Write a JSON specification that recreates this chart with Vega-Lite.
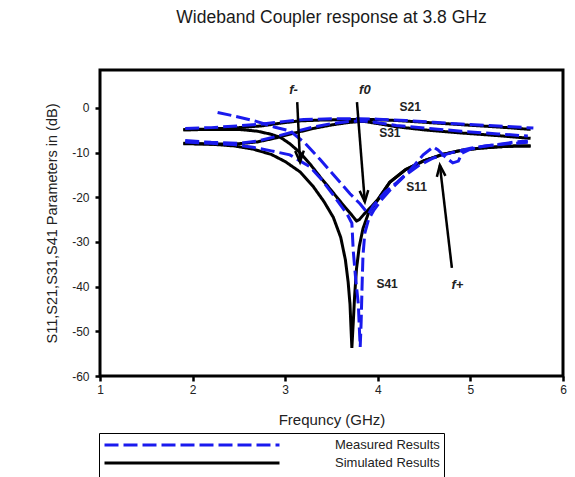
{
  "$schema": "https://vega.github.io/schema/vega-lite/v6.json",
  "width": 463,
  "height": 306,
  "autosize": {"type": "none"},
  "padding": {"left": 100, "top": 70, "right": 12, "bottom": 101},
  "background": "white",
  "title": {"text": "Wideband Coupler response at 3.8 GHz", "fontSize": 17.5, "fontWeight": "normal", "font": "Liberation Sans", "color": "#1a1a1a", "offset": 44, "anchor": "middle"},
  "config": {
    "view": {"stroke": "black", "strokeWidth": 3, "fill": "white"},
    "axis": {"domain": false, "grid": false, "tickColor": "black", "tickWidth": 2.5, "tickSize": 5, "labelFont": "Liberation Sans", "labelFontSize": 12, "labelColor": "#222", "titleFont": "Liberation Sans", "titleFontWeight": "normal", "titleColor": "#222", "labelExpr": "toString(datum.value)"}
  },
  "datasets": {
    "curves": [
      {"p": "S21", "t": "Simulated Results", "f": 1.9, "dB": -4.9},
      {"p": "S21", "t": "Simulated Results", "f": 2.2, "dB": -4.7},
      {"p": "S21", "t": "Simulated Results", "f": 2.5, "dB": -4.4},
      {"p": "S21", "t": "Simulated Results", "f": 2.75, "dB": -4.0},
      {"p": "S21", "t": "Simulated Results", "f": 2.95, "dB": -3.4},
      {"p": "S21", "t": "Simulated Results", "f": 3.15, "dB": -2.9},
      {"p": "S21", "t": "Simulated Results", "f": 3.4, "dB": -2.7},
      {"p": "S21", "t": "Simulated Results", "f": 3.7, "dB": -2.6},
      {"p": "S21", "t": "Simulated Results", "f": 3.95, "dB": -2.6},
      {"p": "S21", "t": "Simulated Results", "f": 4.2, "dB": -2.8},
      {"p": "S21", "t": "Simulated Results", "f": 4.5, "dB": -3.2},
      {"p": "S21", "t": "Simulated Results", "f": 4.8, "dB": -3.6},
      {"p": "S21", "t": "Simulated Results", "f": 5.1, "dB": -4.0},
      {"p": "S21", "t": "Simulated Results", "f": 5.4, "dB": -4.4},
      {"p": "S21", "t": "Simulated Results", "f": 5.65, "dB": -4.8},

      {"p": "S31", "t": "Simulated Results", "f": 1.9, "dB": -8.0},
      {"p": "S31", "t": "Simulated Results", "f": 2.2, "dB": -8.1},
      {"p": "S31", "t": "Simulated Results", "f": 2.5, "dB": -8.0},
      {"p": "S31", "t": "Simulated Results", "f": 2.7, "dB": -7.6},
      {"p": "S31", "t": "Simulated Results", "f": 2.9, "dB": -6.7},
      {"p": "S31", "t": "Simulated Results", "f": 3.1, "dB": -5.6},
      {"p": "S31", "t": "Simulated Results", "f": 3.3, "dB": -4.6},
      {"p": "S31", "t": "Simulated Results", "f": 3.5, "dB": -3.8},
      {"p": "S31", "t": "Simulated Results", "f": 3.7, "dB": -3.2},
      {"p": "S31", "t": "Simulated Results", "f": 3.85, "dB": -3.0},
      {"p": "S31", "t": "Simulated Results", "f": 4.0, "dB": -3.5},
      {"p": "S31", "t": "Simulated Results", "f": 4.2, "dB": -4.2},
      {"p": "S31", "t": "Simulated Results", "f": 4.5, "dB": -4.9},
      {"p": "S31", "t": "Simulated Results", "f": 4.9, "dB": -5.6},
      {"p": "S31", "t": "Simulated Results", "f": 5.3, "dB": -6.2},
      {"p": "S31", "t": "Simulated Results", "f": 5.65, "dB": -6.8},

      {"p": "S11", "t": "Simulated Results", "f": 1.9, "dB": -4.9},
      {"p": "S11", "t": "Simulated Results", "f": 2.2, "dB": -4.8},
      {"p": "S11", "t": "Simulated Results", "f": 2.5, "dB": -4.8},
      {"p": "S11", "t": "Simulated Results", "f": 2.7, "dB": -5.2},
      {"p": "S11", "t": "Simulated Results", "f": 2.85, "dB": -5.9},
      {"p": "S11", "t": "Simulated Results", "f": 2.95, "dB": -6.6},
      {"p": "S11", "t": "Simulated Results", "f": 3.05, "dB": -8.0},
      {"p": "S11", "t": "Simulated Results", "f": 3.16, "dB": -10.0},
      {"p": "S11", "t": "Simulated Results", "f": 3.27, "dB": -12.6},
      {"p": "S11", "t": "Simulated Results", "f": 3.38, "dB": -15.5},
      {"p": "S11", "t": "Simulated Results", "f": 3.48, "dB": -18.0},
      {"p": "S11", "t": "Simulated Results", "f": 3.57, "dB": -20.3},
      {"p": "S11", "t": "Simulated Results", "f": 3.65, "dB": -22.3},
      {"p": "S11", "t": "Simulated Results", "f": 3.72, "dB": -24.0},
      {"p": "S11", "t": "Simulated Results", "f": 3.77, "dB": -25.3},
      {"p": "S11", "t": "Simulated Results", "f": 3.8, "dB": -25.0},
      {"p": "S11", "t": "Simulated Results", "f": 3.85, "dB": -23.8},
      {"p": "S11", "t": "Simulated Results", "f": 3.92, "dB": -22.3},
      {"p": "S11", "t": "Simulated Results", "f": 4.0, "dB": -20.5},
      {"p": "S11", "t": "Simulated Results", "f": 4.13, "dB": -16.6},
      {"p": "S11", "t": "Simulated Results", "f": 4.3, "dB": -13.8},
      {"p": "S11", "t": "Simulated Results", "f": 4.5, "dB": -11.8},
      {"p": "S11", "t": "Simulated Results", "f": 4.7, "dB": -10.4},
      {"p": "S11", "t": "Simulated Results", "f": 4.9, "dB": -9.5},
      {"p": "S11", "t": "Simulated Results", "f": 5.1, "dB": -9.0},
      {"p": "S11", "t": "Simulated Results", "f": 5.3, "dB": -8.7},
      {"p": "S11", "t": "Simulated Results", "f": 5.5, "dB": -8.5},
      {"p": "S11", "t": "Simulated Results", "f": 5.65, "dB": -8.5},

      {"p": "S41", "t": "Simulated Results", "f": 1.9, "dB": -7.9},
      {"p": "S41", "t": "Simulated Results", "f": 2.2, "dB": -8.1},
      {"p": "S41", "t": "Simulated Results", "f": 2.45, "dB": -8.5},
      {"p": "S41", "t": "Simulated Results", "f": 2.65, "dB": -9.2},
      {"p": "S41", "t": "Simulated Results", "f": 2.85, "dB": -10.4},
      {"p": "S41", "t": "Simulated Results", "f": 3.0, "dB": -12.0},
      {"p": "S41", "t": "Simulated Results", "f": 3.16, "dB": -14.3},
      {"p": "S41", "t": "Simulated Results", "f": 3.3, "dB": -17.5},
      {"p": "S41", "t": "Simulated Results", "f": 3.42, "dB": -21.0},
      {"p": "S41", "t": "Simulated Results", "f": 3.52, "dB": -24.5},
      {"p": "S41", "t": "Simulated Results", "f": 3.6, "dB": -29.0},
      {"p": "S41", "t": "Simulated Results", "f": 3.65, "dB": -34.0},
      {"p": "S41", "t": "Simulated Results", "f": 3.68, "dB": -39.0},
      {"p": "S41", "t": "Simulated Results", "f": 3.7, "dB": -44.0},
      {"p": "S41", "t": "Simulated Results", "f": 3.71, "dB": -49.0},
      {"p": "S41", "t": "Simulated Results", "f": 3.72, "dB": -53.7},
      {"p": "S41", "t": "Simulated Results", "f": 3.735, "dB": -48.0},
      {"p": "S41", "t": "Simulated Results", "f": 3.75, "dB": -42.0},
      {"p": "S41", "t": "Simulated Results", "f": 3.77, "dB": -36.0},
      {"p": "S41", "t": "Simulated Results", "f": 3.8, "dB": -31.0},
      {"p": "S41", "t": "Simulated Results", "f": 3.84, "dB": -27.0},
      {"p": "S41", "t": "Simulated Results", "f": 3.9, "dB": -23.5},
      {"p": "S41", "t": "Simulated Results", "f": 4.0, "dB": -20.6},
      {"p": "S41", "t": "Simulated Results", "f": 4.13, "dB": -16.6},
      {"p": "S41", "t": "Simulated Results", "f": 4.3, "dB": -13.8},
      {"p": "S41", "t": "Simulated Results", "f": 4.5, "dB": -11.8},
      {"p": "S41", "t": "Simulated Results", "f": 4.7, "dB": -10.4},
      {"p": "S41", "t": "Simulated Results", "f": 4.9, "dB": -9.5},
      {"p": "S41", "t": "Simulated Results", "f": 5.1, "dB": -9.0},
      {"p": "S41", "t": "Simulated Results", "f": 5.3, "dB": -8.7},
      {"p": "S41", "t": "Simulated Results", "f": 5.5, "dB": -8.5},
      {"p": "S41", "t": "Simulated Results", "f": 5.65, "dB": -8.5},

      {"p": "S21", "t": "Measured Results", "f": 1.92, "dB": -4.6},
      {"p": "S21", "t": "Measured Results", "f": 2.2, "dB": -4.4},
      {"p": "S21", "t": "Measured Results", "f": 2.5, "dB": -4.0},
      {"p": "S21", "t": "Measured Results", "f": 2.75, "dB": -3.6},
      {"p": "S21", "t": "Measured Results", "f": 3.0, "dB": -3.0},
      {"p": "S21", "t": "Measured Results", "f": 3.2, "dB": -2.6},
      {"p": "S21", "t": "Measured Results", "f": 3.5, "dB": -2.4},
      {"p": "S21", "t": "Measured Results", "f": 3.8, "dB": -2.4},
      {"p": "S21", "t": "Measured Results", "f": 4.0, "dB": -2.5},
      {"p": "S21", "t": "Measured Results", "f": 4.3, "dB": -2.8},
      {"p": "S21", "t": "Measured Results", "f": 4.6, "dB": -3.2},
      {"p": "S21", "t": "Measured Results", "f": 4.9, "dB": -3.6},
      {"p": "S21", "t": "Measured Results", "f": 5.2, "dB": -3.9},
      {"p": "S21", "t": "Measured Results", "f": 5.45, "dB": -4.2},
      {"p": "S21", "t": "Measured Results", "f": 5.68, "dB": -4.5},

      {"p": "S31", "t": "Measured Results", "f": 1.92, "dB": -7.3},
      {"p": "S31", "t": "Measured Results", "f": 2.2, "dB": -7.7},
      {"p": "S31", "t": "Measured Results", "f": 2.5, "dB": -7.9},
      {"p": "S31", "t": "Measured Results", "f": 2.7, "dB": -7.4},
      {"p": "S31", "t": "Measured Results", "f": 2.9, "dB": -6.4},
      {"p": "S31", "t": "Measured Results", "f": 3.1, "dB": -5.3},
      {"p": "S31", "t": "Measured Results", "f": 3.3, "dB": -4.3},
      {"p": "S31", "t": "Measured Results", "f": 3.5, "dB": -3.5},
      {"p": "S31", "t": "Measured Results", "f": 3.7, "dB": -3.0},
      {"p": "S31", "t": "Measured Results", "f": 3.85, "dB": -2.9},
      {"p": "S31", "t": "Measured Results", "f": 4.0, "dB": -3.3},
      {"p": "S31", "t": "Measured Results", "f": 4.2, "dB": -3.9},
      {"p": "S31", "t": "Measured Results", "f": 4.5, "dB": -4.5},
      {"p": "S31", "t": "Measured Results", "f": 4.9, "dB": -5.2},
      {"p": "S31", "t": "Measured Results", "f": 5.3, "dB": -5.8},
      {"p": "S31", "t": "Measured Results", "f": 5.62, "dB": -6.3},

      {"p": "S11", "t": "Measured Results", "f": 2.27, "dB": -1.0},
      {"p": "S11", "t": "Measured Results", "f": 2.45, "dB": -1.8},
      {"p": "S11", "t": "Measured Results", "f": 2.67, "dB": -2.9},
      {"p": "S11", "t": "Measured Results", "f": 2.89, "dB": -4.3},
      {"p": "S11", "t": "Measured Results", "f": 3.05, "dB": -5.1},
      {"p": "S11", "t": "Measured Results", "f": 3.21, "dB": -7.8},
      {"p": "S11", "t": "Measured Results", "f": 3.38, "dB": -11.6},
      {"p": "S11", "t": "Measured Results", "f": 3.54, "dB": -15.4},
      {"p": "S11", "t": "Measured Results", "f": 3.7, "dB": -19.2},
      {"p": "S11", "t": "Measured Results", "f": 3.81, "dB": -21.5},
      {"p": "S11", "t": "Measured Results", "f": 3.88, "dB": -23.3},
      {"p": "S11", "t": "Measured Results", "f": 3.9, "dB": -23.7},
      {"p": "S11", "t": "Measured Results", "f": 3.95, "dB": -21.9},
      {"p": "S11", "t": "Measured Results", "f": 4.08, "dB": -18.8},
      {"p": "S11", "t": "Measured Results", "f": 4.21, "dB": -16.6},
      {"p": "S11", "t": "Measured Results", "f": 4.35, "dB": -13.9},
      {"p": "S11", "t": "Measured Results", "f": 4.49, "dB": -10.5},
      {"p": "S11", "t": "Measured Results", "f": 4.6, "dB": -8.7},
      {"p": "S11", "t": "Measured Results", "f": 4.65, "dB": -9.4},
      {"p": "S11", "t": "Measured Results", "f": 4.73, "dB": -11.0},
      {"p": "S11", "t": "Measured Results", "f": 4.81, "dB": -12.3},
      {"p": "S11", "t": "Measured Results", "f": 4.87, "dB": -11.9},
      {"p": "S11", "t": "Measured Results", "f": 4.91, "dB": -10.1},
      {"p": "S11", "t": "Measured Results", "f": 5.0, "dB": -9.2},
      {"p": "S11", "t": "Measured Results", "f": 5.16, "dB": -8.5},
      {"p": "S11", "t": "Measured Results", "f": 5.32, "dB": -8.1},
      {"p": "S11", "t": "Measured Results", "f": 5.48, "dB": -7.6},
      {"p": "S11", "t": "Measured Results", "f": 5.62, "dB": -7.4},

      {"p": "S41", "t": "Measured Results", "f": 1.92, "dB": -7.6},
      {"p": "S41", "t": "Measured Results", "f": 2.2, "dB": -7.9},
      {"p": "S41", "t": "Measured Results", "f": 2.45, "dB": -8.2},
      {"p": "S41", "t": "Measured Results", "f": 2.65, "dB": -8.8},
      {"p": "S41", "t": "Measured Results", "f": 2.85, "dB": -9.6},
      {"p": "S41", "t": "Measured Results", "f": 3.05, "dB": -10.5},
      {"p": "S41", "t": "Measured Results", "f": 3.27, "dB": -13.2},
      {"p": "S41", "t": "Measured Results", "f": 3.4, "dB": -16.2},
      {"p": "S41", "t": "Measured Results", "f": 3.52, "dB": -19.5},
      {"p": "S41", "t": "Measured Results", "f": 3.6, "dB": -21.8},
      {"p": "S41", "t": "Measured Results", "f": 3.67, "dB": -23.8},
      {"p": "S41", "t": "Measured Results", "f": 3.72, "dB": -25.8},
      {"p": "S41", "t": "Measured Results", "f": 3.735, "dB": -32.0},
      {"p": "S41", "t": "Measured Results", "f": 3.76, "dB": -38.0},
      {"p": "S41", "t": "Measured Results", "f": 3.79, "dB": -44.0},
      {"p": "S41", "t": "Measured Results", "f": 3.8, "dB": -49.0},
      {"p": "S41", "t": "Measured Results", "f": 3.81, "dB": -53.5},
      {"p": "S41", "t": "Measured Results", "f": 3.82, "dB": -48.0},
      {"p": "S41", "t": "Measured Results", "f": 3.83, "dB": -40.0},
      {"p": "S41", "t": "Measured Results", "f": 3.84, "dB": -33.0},
      {"p": "S41", "t": "Measured Results", "f": 3.86, "dB": -28.0},
      {"p": "S41", "t": "Measured Results", "f": 3.9, "dB": -25.0},
      {"p": "S41", "t": "Measured Results", "f": 3.96, "dB": -22.8},
      {"p": "S41", "t": "Measured Results", "f": 4.05, "dB": -20.3},
      {"p": "S41", "t": "Measured Results", "f": 4.15, "dB": -18.0},
      {"p": "S41", "t": "Measured Results", "f": 4.3, "dB": -15.0},
      {"p": "S41", "t": "Measured Results", "f": 4.45, "dB": -12.8},
      {"p": "S41", "t": "Measured Results", "f": 4.6, "dB": -11.2},
      {"p": "S41", "t": "Measured Results", "f": 4.8, "dB": -10.0},
      {"p": "S41", "t": "Measured Results", "f": 5.0, "dB": -9.0},
      {"p": "S41", "t": "Measured Results", "f": 5.2, "dB": -8.4},
      {"p": "S41", "t": "Measured Results", "f": 5.4, "dB": -8.0},
      {"p": "S41", "t": "Measured Results", "f": 5.62, "dB": -7.7}
    ],
    "arrows": [
      {"name": "f-", "f": 3.13, "dB": 1.3, "f2": 3.16, "dB2": -12.1},
      {"name": "f0", "f": 3.775, "dB": 1.3, "f2": 3.86, "dB2": -21.0},
      {"name": "f+", "f": 4.8, "dB": -35.8, "f2": 4.67, "dB2": -12.8}
    ],
    "labels": [
      {"text": "S21", "kind": "param", "f": 4.35, "dB": 0.2},
      {"text": "S31", "kind": "param", "f": 4.13, "dB": -5.7},
      {"text": "S11", "kind": "param", "f": 4.42, "dB": -17.8},
      {"text": "S41", "kind": "param", "f": 4.1, "dB": -39.4},
      {"text": "f-", "kind": "freq", "f": 3.09, "dB": 4.0},
      {"text": "f0", "kind": "freq", "f": 3.86, "dB": 4.0},
      {"text": "f+", "kind": "freq", "f": 4.86, "dB": -39.7}
    ]
  },
  "encoding": {
    "x": {"field": "f", "type": "quantitative", "scale": {"domain": [1, 6], "nice": false, "zero": false},
      "axis": {"values": [1, 2, 3, 4, 5, 6], "title": "Frequncy (GHz)", "titleFontSize": 15, "labelPadding": 3, "labelFlush": false, "titleY": 43, "titleBaseline": "middle"}},
    "y": {"field": "dB", "type": "quantitative", "scale": {"domain": [-60, 8.5], "nice": false, "zero": false},
      "axis": {"values": [-60, -50, -40, -30, -20, -10, 0], "title": "S11,S21,S31,S41 Parameters in (dB)", "titleFontSize": 14.5, "labelPadding": 6, "titleX": -48, "titleBaseline": "middle"}}
  },
  "layer": [
    {
      "data": {"name": "curves"},
      "transform": [{"filter": "datum.t === 'Simulated Results'"}],
      "mark": {"type": "line", "strokeWidth": 3, "strokeCap": "butt"},
      "encoding": {
        "detail": {"field": "p"},
        "color": {"field": "t", "type": "nominal", "scale": {"domain": ["Measured Results", "Simulated Results"], "range": ["#1a1aee", "black"]},
          "legend": {"orient": "none", "legendX": -1, "legendY": 363, "title": " ", "titleOrient": "bottom", "titleFontSize": 12, "titlePadding": 0,
            "symbolType": "M-1,0L1,0", "symbolSize": 30625, "symbolStrokeWidth": 3, "clipHeight": 16, "rowPadding": 2, "padding": 4,
            "labelOffset": 54, "labelFontSize": 13, "labelFont": "Liberation Sans", "labelColor": "#222", "strokeColor": "black", "fillColor": "white"}},
        "strokeDash": {"field": "t", "type": "nominal", "scale": {"domain": ["Measured Results", "Simulated Results"], "range": [[14, 5], [1, 0]]}}
      }
    },
    {
      "data": {"name": "curves"},
      "transform": [{"filter": "datum.t === 'Measured Results'"}],
      "mark": {"type": "line", "strokeWidth": 3, "strokeCap": "butt"},
      "encoding": {
        "detail": {"field": "p"},
        "color": {"field": "t", "type": "nominal"},
        "strokeDash": {"field": "t", "type": "nominal"}
      }
    },
    {
      "data": {"name": "arrows"},
      "mark": {"type": "rule", "strokeWidth": 2.5, "color": "black"},
      "encoding": {"x2": {"field": "f2"}, "y2": {"field": "dB2"}}
    },
    {
      "data": {"name": "arrows"},
      "transform": [{"filter": "datum.name === 'f-'"}],
      "mark": {"type": "point", "shape": "M-0.5,-1.3L0,0L0.5,-1.3", "filled": false, "stroke": "black", "strokeWidth": 2.5, "size": 300, "angle": -2.7, "opacity": 1},
      "encoding": {"x": {"field": "f2", "type": "quantitative"}, "y": {"field": "dB2", "type": "quantitative"}}
    },
    {
      "data": {"name": "arrows"},
      "transform": [{"filter": "datum.name === 'f0'"}],
      "mark": {"type": "point", "shape": "M-0.5,-1.3L0,0L0.5,-1.3", "filled": false, "stroke": "black", "strokeWidth": 2.5, "size": 300, "angle": -4.5, "opacity": 1},
      "encoding": {"x": {"field": "f2", "type": "quantitative"}, "y": {"field": "dB2", "type": "quantitative"}}
    },
    {
      "data": {"name": "arrows"},
      "transform": [{"filter": "datum.name === 'f+'"}],
      "mark": {"type": "point", "shape": "M-0.5,-1.3L0,0L0.5,-1.3", "filled": false, "stroke": "black", "strokeWidth": 2.5, "size": 300, "angle": 173.3, "opacity": 1},
      "encoding": {"x": {"field": "f2", "type": "quantitative"}, "y": {"field": "dB2", "type": "quantitative"}}
    },
    {
      "data": {"name": "labels"},
      "transform": [{"filter": "datum.kind === 'param'"}],
      "mark": {"type": "text", "font": "Liberation Sans", "fontSize": 12, "fontWeight": "bold", "color": "#222", "align": "center", "baseline": "middle"},
      "encoding": {"text": {"field": "text"}}
    },
    {
      "data": {"name": "labels"},
      "transform": [{"filter": "datum.kind === 'freq'"}],
      "mark": {"type": "text", "font": "Liberation Sans", "fontSize": 13, "fontWeight": "bold", "fontStyle": "italic", "color": "#222", "align": "center", "baseline": "middle"},
      "encoding": {"text": {"field": "text"}}
    }
  ]
}
